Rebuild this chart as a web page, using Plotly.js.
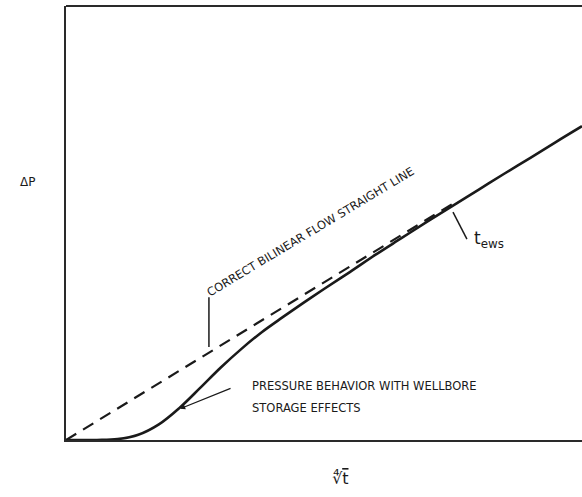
<!DOCTYPE html>
<html>
<head>
<meta charset="utf-8">
<script src="https://cdn.plot.ly/plotly-3.0.1.min.js"></script>
<style>html,body{margin:0;padding:0;background:#fff;}</style>
</head>
<body>
<div id="chart" style="width:582px;height:497px;"></div>
<script>
// Fourth root of time (x) and pressure change (y), arbitrary units
const bilinearX = [0, 7.6];
const bilinearY = [0, 5.52];
const storageX = [0, 0.6, 1.0, 1.4, 1.8, 2.2, 2.6, 3.0, 3.4, 3.8, 4.2, 4.6, 5.0, 5.5, 6.0, 6.5, 7.0, 7.5, 8.0, 8.5, 9.0, 9.5, 10.0];
const storageY = [0, 0, 0.02, 0.12, 0.36, 0.74, 1.20, 1.67, 2.10, 2.49, 2.83, 3.16, 3.48, 3.87, 4.27, 4.65, 5.03, 5.40, 5.77, 6.14, 6.50, 6.87, 7.23];
const xLabel = '∜<span style="text-decoration:overline">t</span>';
const yLabel = 'ΔP';
const labelBilinear = 'CORRECT BILINEAR FLOW STRAIGHT LINE';
const labelStorage1 = 'PRESSURE BEHAVIOR WITH WELLBORE';
const labelStorage2 = 'STORAGE EFFECTS';
const labelEws = 't<sub>ews</sub>';

const ink = '#1a1a1a';
const fontTxt = {family: 'DejaVu Sans', size: 11.5, color: ink};

const traces = [
  {x: bilinearX, y: bilinearY, mode: 'lines', line: {color: ink, width: 2.2, dash: '12px,8px'}, hoverinfo: 'skip'},
  {x: storageX, y: storageY, mode: 'lines', line: {color: ink, width: 2.6, shape: 'spline', smoothing: 1}, hoverinfo: 'skip'}
];

const layout = {
  width: 582, height: 497,
  margin: {l: 66, r: 0, t: 6, b: 57},
  paper_bgcolor: '#fff', plot_bgcolor: '#fff',
  showlegend: false,
  xaxis: {range: [0, 10], showgrid: false, zeroline: false, showticklabels: false, ticks: '',
          showline: true, linecolor: '#2a2a2a', linewidth: 2, fixedrange: true},
  yaxis: {range: [0, 10], showgrid: false, zeroline: false, showticklabels: false, ticks: '',
          showline: true, linecolor: '#2a2a2a', linewidth: 2, fixedrange: true},
  shapes: [
    {type: 'line', xref: 'paper', yref: 'paper', x0: 0, x1: 1, y0: 1, y1: 1, line: {color: '#2a2a2a', width: 2}},
    {type: 'line', xref: 'x', yref: 'y', x0: 2.77, x1: 2.77, y0: 3.29, y1: 2.14, line: {color: ink, width: 1.5}},
    {type: 'line', xref: 'x', yref: 'y', x0: 7.5, x1: 7.77, y0: 5.25, y1: 4.63, line: {color: ink, width: 1.5}}
  ],
  annotations: [
    {xref: 'paper', yref: 'paper', x: 0.531, y: -0.088, xanchor: 'center', yanchor: 'middle', text: xLabel, showarrow: false, font: {family: 'DejaVu Sans', size: 16, color: ink}},
    {xref: 'paper', yref: 'paper', x: -0.074, y: 0.594, xanchor: 'center', yanchor: 'middle', text: yLabel, showarrow: false, font: {family: 'DejaVu Sans', size: 12, color: ink}},
    {xref: 'x', yref: 'y', x: 4.73, y: 4.79, text: labelBilinear, showarrow: false, textangle: -31, font: fontTxt},
    {xref: 'x', yref: 'y', x: 3.57, y: 1.24, xanchor: 'left', text: labelStorage1, showarrow: false, font: fontTxt},
    {xref: 'x', yref: 'y', x: 3.57, y: 0.74, xanchor: 'left', text: labelStorage2, showarrow: false, font: fontTxt},
    {xref: 'x', yref: 'y', x: 2.21, y: 0.72, text: '', showarrow: true, ax: 52, ay: -21, arrowhead: 2, arrowsize: 0.8, arrowwidth: 1.3, arrowcolor: ink},
    {xref: 'x', yref: 'y', x: 7.87, y: 4.62, xanchor: 'left', text: labelEws, showarrow: false, font: {family: 'DejaVu Sans', size: 17, color: ink}}
  ]
};

Plotly.newPlot('chart', traces, layout, {staticPlot: true, displayModeBar: false});
</script>
</body>
</html>
